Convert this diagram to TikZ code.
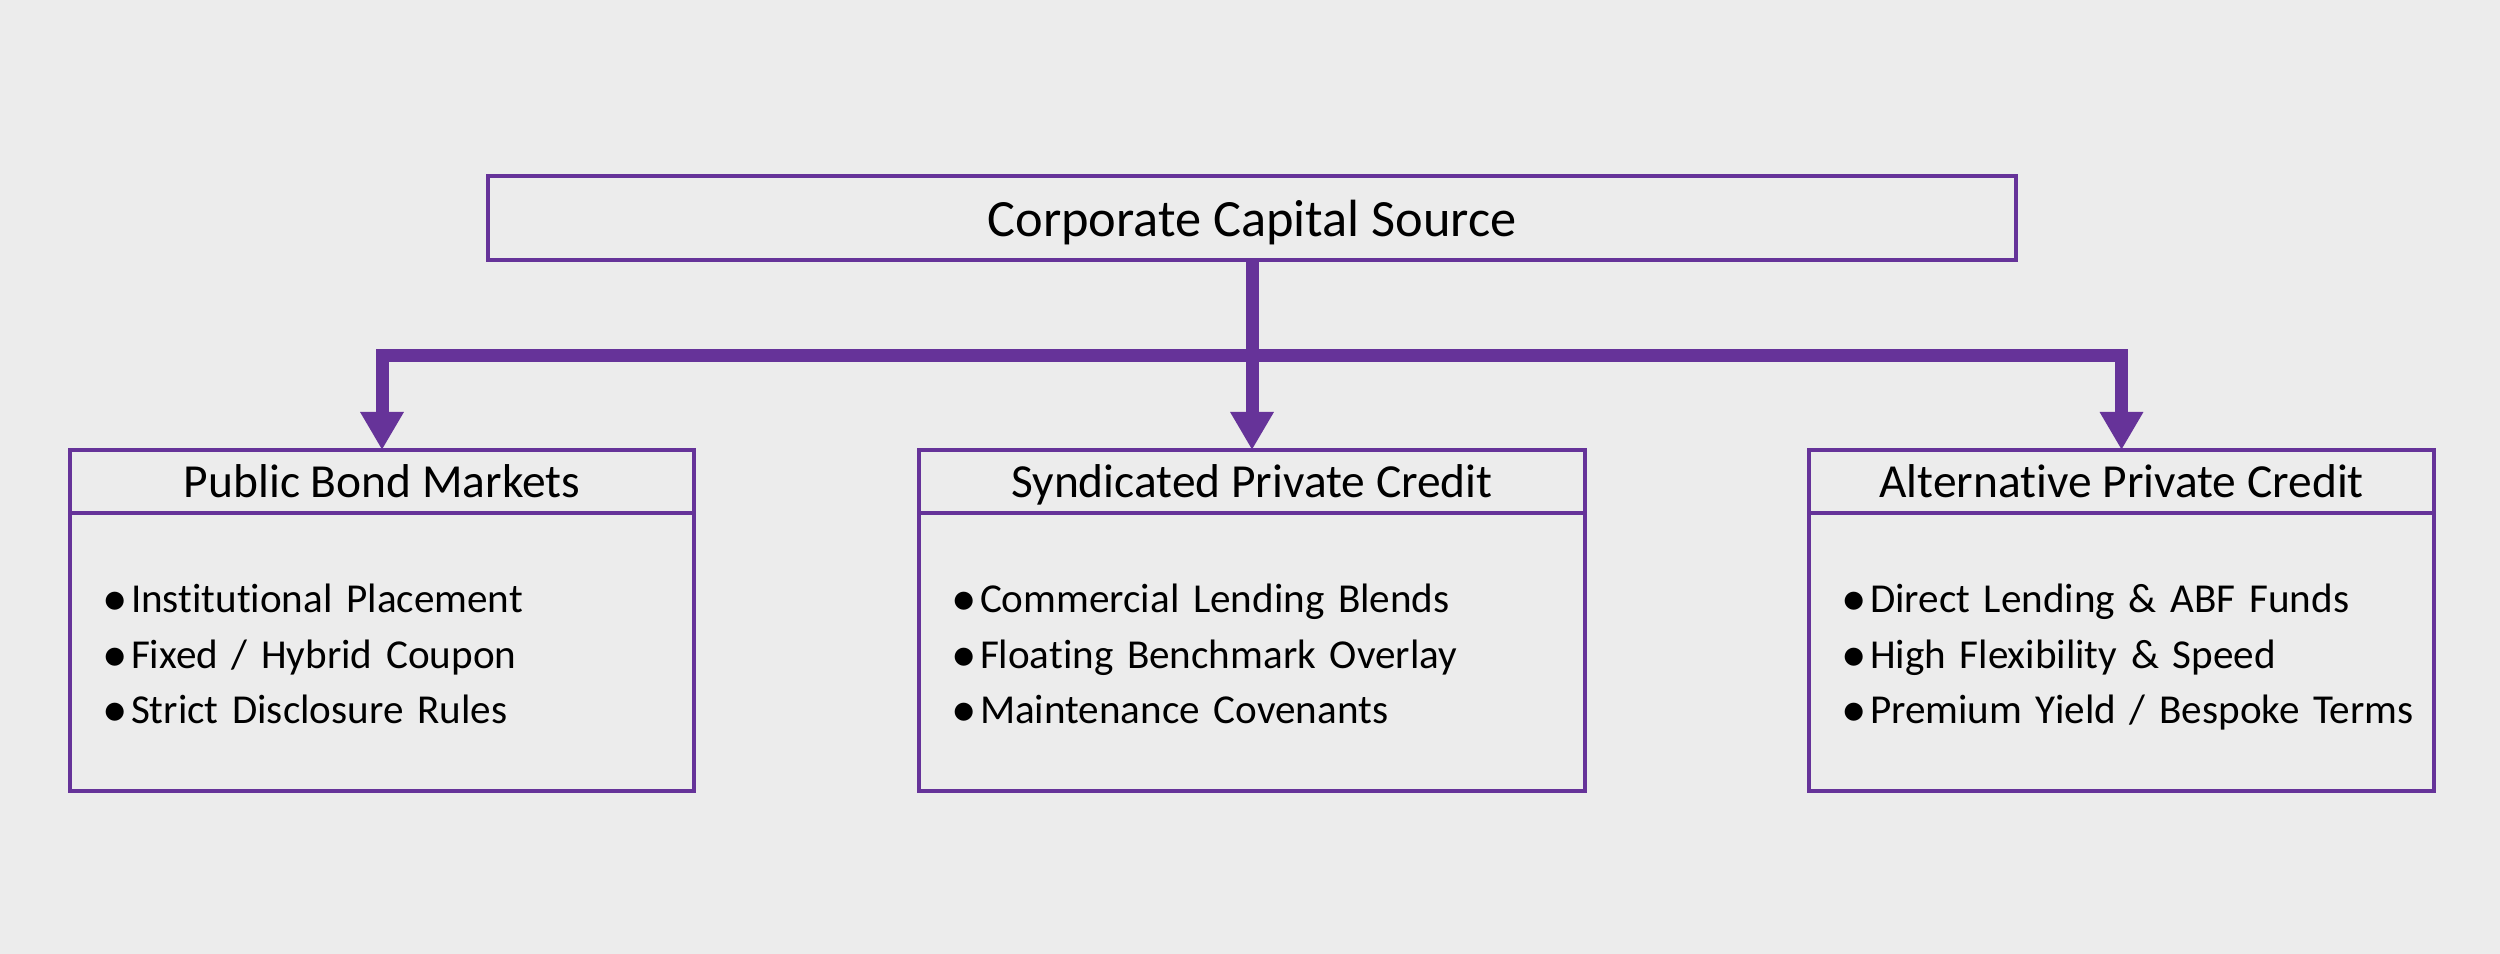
\documentclass[tikz,border=0pt]{standalone}
\usepackage{fontspec}
\setmainfont{Carlito}[Ligatures=NoCommon]
\usetikzlibrary{positioning,arrows.meta}
\definecolor{bgray}{HTML}{ECECEC}
\definecolor{capurple}{HTML}{663399}
\newcommand{\bitem}[1]{\mbox{\strut\makebox[0.29cm][l]{\raisebox{-0.9pt}{\fontsize{14.5}{0}\selectfont\textbullet}}#1}}
\newcommand{\btop}{\rule{0pt}{13.9pt}}

\begin{document}
\begin{tikzpicture}[
    box/.style={rectangle, draw=capurple, line width=0.04cm, inner sep=0pt, outer sep=0pt},
    head/.style={box, minimum height=0.63cm, text depth=0pt, font=\fontsize{13.5}{16}\selectfont},
    body/.style={box, minimum height=2.78cm, inner xsep=0.32cm, align=left, font=\fontsize{11.7}{15.8}\selectfont},
    feed/.style={draw=capurple, line width=0.13cm, -{Triangle[width=0.41cm,length=0.38cm]}}
]
    % Background
    \fill[bgray] (0,0) rectangle (25,9.54);
    \useasboundingbox (0,0) rectangle (25,9.54);

    % Capital source
    \node [box, minimum width=15.28cm, minimum height=0.84cm, text depth=0pt, font=\fontsize{14.9}{18}\selectfont] (source) at (12.52,7.36) {Corporate Capital Source};

    % Credit markets
    \node [head, minimum width=6.24cm] (pub) at (3.82,4.725) {Public Bond Markets};
    \node [body, text width=5.6cm, below=0pt of pub] (pubbody) {\btop\bitem{Institutional Placement}\\\bitem{Fixed / Hybrid Coupon}\\\bitem{Strict Disclosure Rules}};

    \node [head, minimum width=6.66cm] (syn) at (12.52,4.725) {Syndicated Private Credit};
    \node [body, text width=6.02cm, below=0pt of syn] (synbody) {\btop\bitem{Commercial Lending Blends}\\\bitem{Floating Benchmark Overlay}\\\bitem{Maintenance Covenants}};

    \node [head, minimum width=6.25cm] (alt) at (21.215,4.725) {Alternative Private Credit};
    \node [body, text width=5.61cm, below=0pt of alt] (altbody) {\btop\bitem{Direct Lending \& ABF Funds}\\\bitem{High Flexibility \& Speed}\\\bitem{Premium Yield / Bespoke Terms}};

    % Arrows
    \coordinate (split) at ([yshift=-0.96cm]source.south);
    \draw [feed] (source) -- (syn);
    \draw [feed] (split) -| (pub);
    \draw [feed] (split) -| (alt);
\end{tikzpicture}
\end{document}
